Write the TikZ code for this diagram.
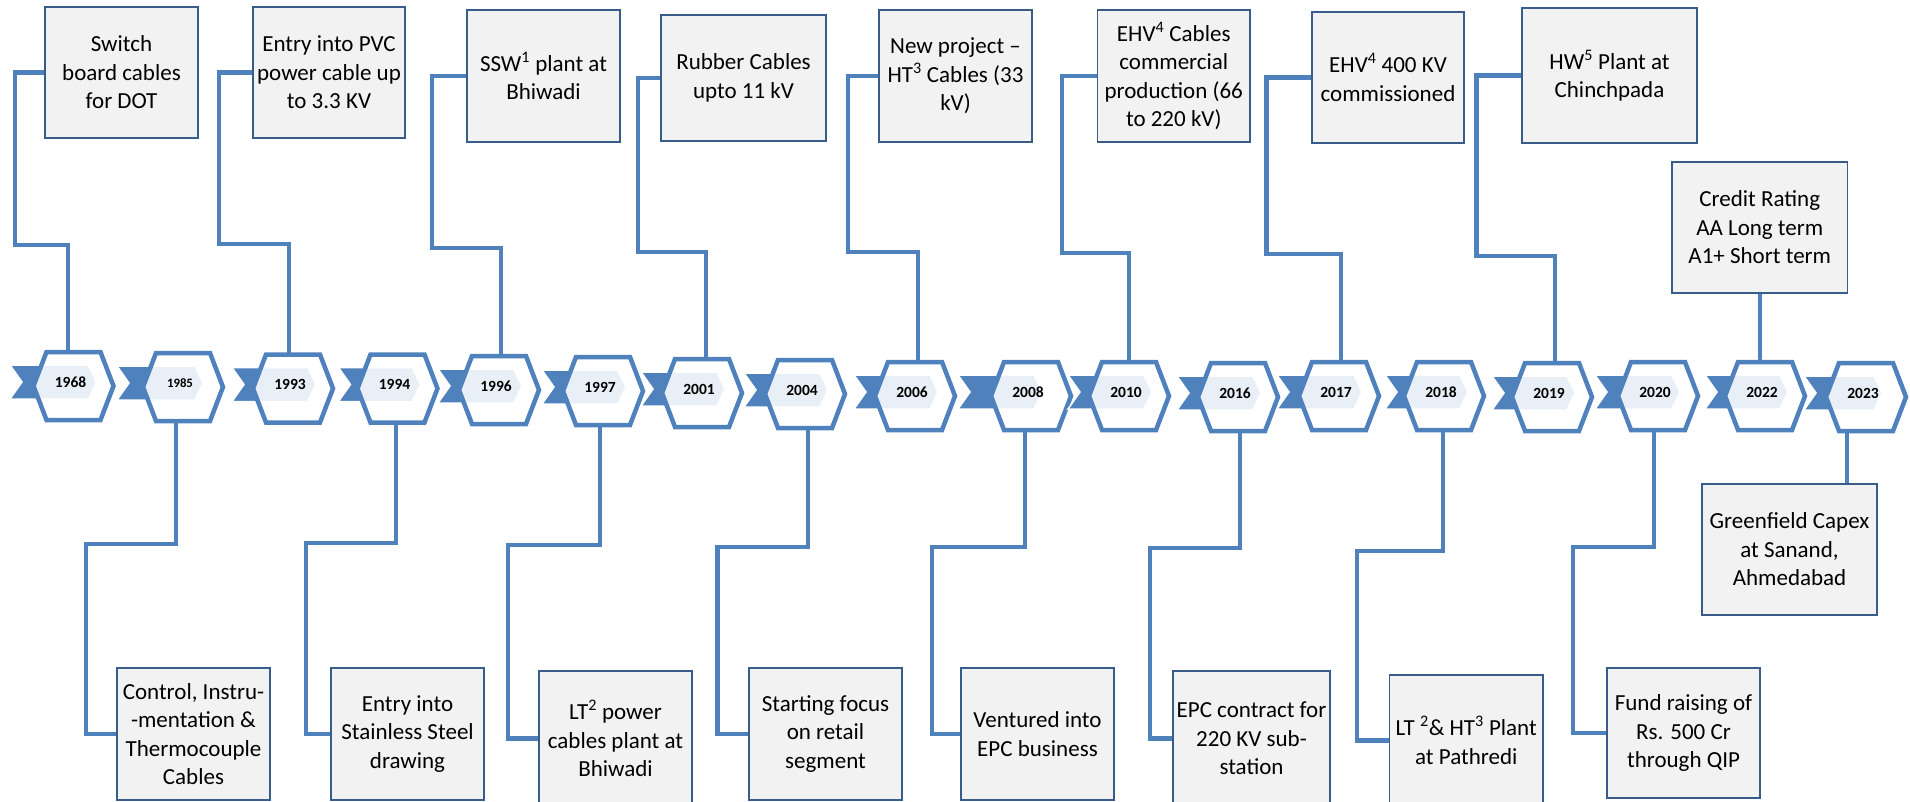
\documentclass[tikz,border=0pt]{standalone}
\usepackage{fontspec}
\setmainfont{Carlito}
\definecolor{cblue}{HTML}{4F81BD}
\definecolor{bborder}{HTML}{385D8A}
\definecolor{bfill}{HTML}{F2F2F2}
\tikzset{
  conn/.style={draw=cblue, line width=4.5pt},
  box/.style={draw=bborder, fill=bfill, line width=1.8pt, inner sep=0pt, align=center,
              font=\fontsize{23}{28.5}\selectfont},
  hexa/.style={draw=cblue, line width=4.5pt, fill=white, fill opacity=0.88},
  chev/.style={fill=cblue, draw=white, line width=1.5pt},
  yearlbl/.style={inner sep=0pt}
}
\begin{document}
\begin{tikzpicture}[x=1pt,y=-1pt]
\useasboundingbox (0,0) rectangle (1910,802);

% ---- upper boxes ----
\node[box, minimum width=153pt, minimum height=131pt] (t1968) at (121.5,72.5) {Switch\\board cables\\for DOT};
\node[box, minimum width=152pt, minimum height=131pt] (t1993) at (329,72.5) {Entry into PVC\\power cable up\\to 3.3 KV};
\node[box, minimum width=153pt, minimum height=132pt] (t1996) at (543.5,76) {SSW\textsuperscript{1} plant at\\Bhiwadi};
\node[box, minimum width=165pt, minimum height=126pt] (t2001) at (743.5,78) {Rubber Cables\\upto 11 kV};
\node[box, minimum width=153pt, minimum height=132pt] (t2006) at (955.5,76) {New project --\\HT\textsuperscript{3} Cables (33\\kV)};
\node[box, minimum width=152.5pt, minimum height=132pt] (t2010) at (1173.75,76) {EHV\textsuperscript{4} Cables\\commercial\\production (66\\to 220 kV)};
\node[box, minimum width=152pt, minimum height=131pt] (t2017) at (1388,77.5) {EHV\textsuperscript{4} 400 KV\\commissioned};
\node[box, minimum width=175pt, minimum height=135pt] (t2019) at (1609.5,75.5) {HW\textsuperscript{5} Plant at\\Chinchpada};
\node[box, minimum width=175.5pt, minimum height=131pt] (t2022) at (1759.75,227.5) {Credit Rating\\AA Long term\\A1+ Short term};

% ---- lower boxes ----
\node[box, minimum width=153pt, minimum height=132pt] (b1985) at (193.5,734) {Control, Instru-\\-mentation \&\\Thermocouple\\Cables};
\node[box, minimum width=153pt, minimum height=132pt] (b1994) at (407.5,734) {Entry into\\Stainless Steel\\drawing};
\node[box, minimum width=153pt, minimum height=135pt] (b1997) at (615.5,738.5) {LT\textsuperscript{2} power\\cables plant at\\Bhiwadi};
\node[box, minimum width=153pt, minimum height=132pt] (b2004) at (825.5,734) {Starting focus\\on retail\\segment};
\node[box, minimum width=153pt, minimum height=132pt] (b2008) at (1037.5,734) {Ventured into\\EPC business};
\node[box, minimum width=157pt, minimum height=135pt] (b2016) at (1251.5,738.5) {EPC contract for\\220 KV sub-\\station};
\node[box, minimum width=153.5pt, minimum height=131pt] (b2018) at (1466.25,740.5) {LT \textsuperscript{2}\& HT\textsuperscript{3} Plant\\at Pathredi};
\node[box, minimum width=153pt, minimum height=130pt] (b2020) at (1683.5,733) {Fund raising of\\Rs. 500 Cr\\through QIP};
\node[box, minimum width=175pt, minimum height=131pt] (b2023) at (1789.5,549.5) {Greenfield Capex\\at Sanand,\\Ahmedabad};

% ---- connector ends on the hexagons ----
\coordinate (c1968) at (68,353);
\coordinate (c1993) at (289,355.5);
\coordinate (c1996) at (501,357);
\coordinate (c2001) at (706,360);
\coordinate (c2006) at (918,363);
\coordinate (c2010) at (1129,363);
\coordinate (c2017) at (1341,363);
\coordinate (c2019) at (1555,364);
\coordinate (c2022) at (1759.75,363);
\coordinate (c1985) at (176,420);
\coordinate (c1994) at (396,421.5);
\coordinate (c1997) at (600,424);
\coordinate (c2004) at (808,427);
\coordinate (c2008) at (1025,429);
\coordinate (c2016) at (1240,430);
\coordinate (c2018) at (1443,429);
\coordinate (c2020) at (1654,429);
\coordinate (c2023) at (1847,430);

% ---- connectors ----
\draw[conn] (t1968.west) -| (15,245) -| (c1968);
\draw[conn] (t1993.west) -| (219,244) -| (c1993);
\draw[conn] (t1996.west) -| (432,248) -| (c1996);
\draw[conn] (t2001.west) -| (638,252) -| (c2001);
\draw[conn] (t2006.west) -| (848,252) -| (c2006);
\draw[conn] (t2010.west) -| (1062,253) -| (c2010);
\draw[conn] (t2017.west) -| (1266.5,254) -| (c2017);
\draw[conn] (t2019.west) -| (1476.5,256) -| (c2019);
\draw[conn] (t2022.south) -- (c2022);
\draw[conn] (c1985) |- (86,544) |- (b1985.west);
\draw[conn] (c1994) |- (306,543) |- (b1994.west);
\draw[conn] (c1997) |- (508,545) |- (b1997.west);
\draw[conn] (c2004) |- (717.5,547) |- (b2004.west);
\draw[conn] (c2008) |- (932,547) |- (b2008.west);
\draw[conn] (c2016) |- (1150,548) |- (b2016.west);
\draw[conn] (c2018) |- (1357,551) |- (b2018.west);
\draw[conn] (c2020) |- (1573,547) |- (b2020.west);
\draw[conn] (c2023) -- (c2023 |- b2023.north);

% ---- chevrons, hexagons and years ----
\foreach \yr/\cx/\cy/\L/\T/\fs in {
  1968/73.5/386/63.5/23/15.5,
  1985/183/387/66/20/12.8,
  1993/293/388.5/61/23/15.5,
  1994/397.5/388.5/59/23/15.5,
  1996/499/390/61/23/15.5,
  1997/603/391/61/23/15.5,
  2001/702/393/61/23/15.5,
  2004/805/394/61/23/15.5,
  2006/915/396/61/23/15.5,
  2008/1031/396/73/11/15.5,
  2010/1129/396/61/23/15.5,
  2016/1238/397/61/23/15.5,
  2017/1339/396/62/23/15.5,
  2018/1444/396/59/24/15.5,
  2019/1552/397/60/23/15.5,
  2020/1658/396/63/22/15.5,
  2022/1765/396/60/23/15.5,
  2023/1866/397/62/16/15.5}{
  \filldraw[chev] (\cx-\L,\cy-21) -- (\cx+\T-8,\cy-21) -- (\cx+\T,\cy-4)
     -- (\cx+\T-8,\cy+13) -- (\cx-\L,\cy+13) -- (\cx-\L+12,\cy-4) -- cycle;
  \draw[hexa] (\cx-40,\cy) -- (\cx-27,\cy-34) -- (\cx+27,\cy-34) -- (\cx+40,\cy)
     -- (\cx+27,\cy+34) -- (\cx-27,\cy+34) -- cycle;
  \node[yearlbl, font=\fontsize{\fs}{\fs}\selectfont\bfseries] (y\yr) at (\cx-3,\cy-4) {\yr};
}
\end{tikzpicture}
\end{document}
